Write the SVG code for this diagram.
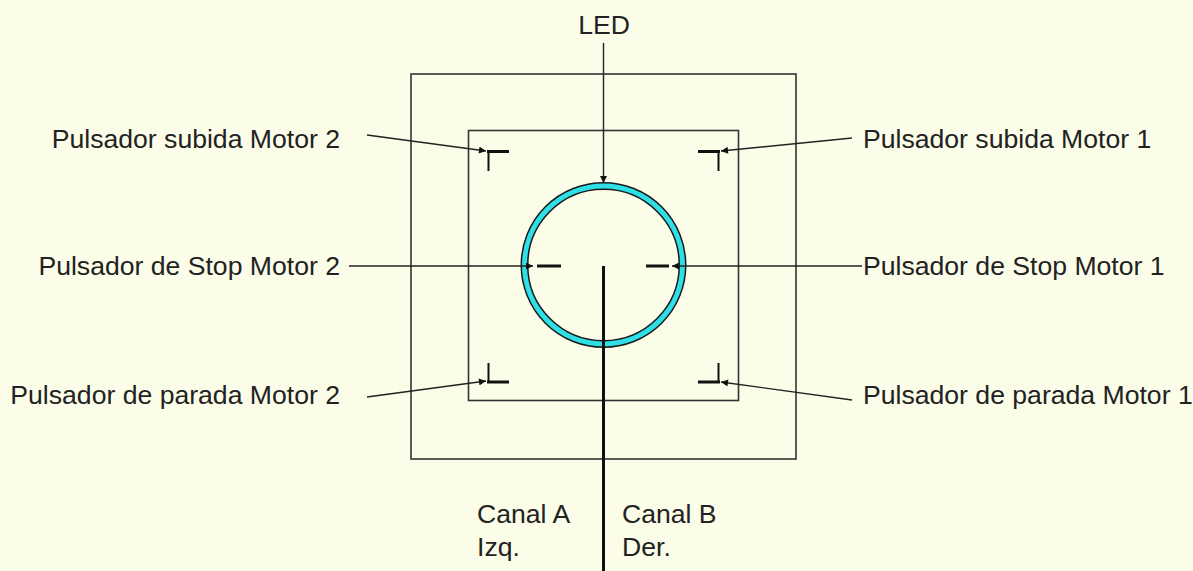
<svg xmlns="http://www.w3.org/2000/svg" width="1193" height="571" viewBox="0 0 1193 571">
<defs>
<marker id="ah" viewBox="0 0 10 10" refX="10" refY="5" markerWidth="8" markerHeight="7" markerUnits="userSpaceOnUse" orient="auto">
<path d="M0,0 L10,5 L0,10 z" fill="#111"/>
</marker>
<style>
text{font-family:"Liberation Sans",Arial,sans-serif;font-size:26.6px;fill:#222}
.box{fill:none;stroke:#333;stroke-width:1.6}
.mk{fill:none;stroke:#111;stroke-linecap:butt}
.ar{fill:none;stroke:#222;stroke-width:1.4;marker-end:url(#ah)}
</style>
</defs>
<rect width="1193" height="571" fill="#FCFDE8"/>
<g id="outer-box"><rect class="box" x="411" y="74" width="385" height="385"/></g>
<g id="inner-box"><rect class="box" x="468.5" y="130.5" width="270" height="270"/></g>
<g id="led">
<circle cx="603.5" cy="265" r="79" fill="none" stroke="#1a1a1a" stroke-width="8"/>
<circle cx="603.5" cy="265" r="79" fill="none" stroke="#2EDFE6" stroke-width="5"/>
</g>
<g id="btn-up-m2"><path class="mk" d="M487,151.5 H509" stroke-width="3"/><path class="mk" d="M488.5,151 V171" stroke-width="2"/></g>
<g id="btn-up-m1"><path class="mk" d="M698,151.5 H720" stroke-width="3"/><path class="mk" d="M718.5,151 V171" stroke-width="2"/></g>
<g id="btn-par-m2"><path class="mk" d="M488.5,363 V383" stroke-width="2"/><path class="mk" d="M487,382 H509" stroke-width="3"/></g>
<g id="btn-par-m1"><path class="mk" d="M718.5,363 V383" stroke-width="2"/><path class="mk" d="M698,382 H720" stroke-width="3"/></g>
<g id="btn-stop-m2"><path class="mk" d="M537,266 H561" stroke-width="3"/></g>
<g id="btn-stop-m1"><path class="mk" d="M646,266 H669" stroke-width="3"/></g>
<g id="connectors">
<path class="ar" d="M603.5,43 V183"/>
<path class="ar" d="M367,135 L486,151"/>
<path class="ar" d="M852,138 L721,151"/>
<path class="ar" d="M367,397 L486,381"/>
<path class="ar" d="M852,400 L721,382"/>
<path class="ar" d="M349,266 H533"/>
<path class="ar" d="M862,266 H672"/>
<path d="M603.5,266 V571" stroke="#111" stroke-width="3" fill="none"/>
</g>
<g id="labels">
<text x="604" y="34" text-anchor="middle">LED</text>
<text x="340" y="148" text-anchor="end">Pulsador subida Motor 2</text>
<text x="863" y="148">Pulsador subida Motor 1</text>
<text x="340" y="275" text-anchor="end">Pulsador de Stop Motor 2</text>
<text x="863" y="275">Pulsador de Stop Motor 1</text>
<text x="340" y="404" text-anchor="end">Pulsador de parada Motor 2</text>
<text x="863" y="404">Pulsador de parada Motor 1</text>
<text x="477" y="523">Canal A</text>
<text x="477" y="556">Izq.</text>
<text x="622" y="523">Canal B</text>
<text x="622" y="556">Der.</text>
</g>
</svg>
